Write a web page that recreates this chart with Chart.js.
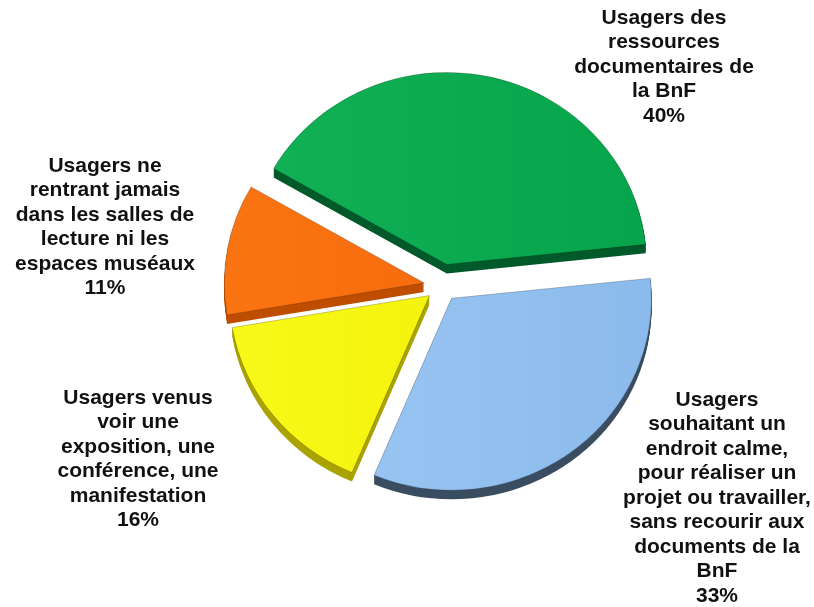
<!DOCTYPE html>
<html>
<head>
<meta charset="utf-8">
<script src="https://cdn.jsdelivr.net/npm/chart.js@4.4.0/dist/chart.umd.min.js"></script>
<style>
html, body { margin: 0; padding: 0; background: #fff; }
#wrap { width: 814px; height: 607px; position: relative; }
</style>
</head>
<body>
<div id="wrap"><canvas id="pie"></canvas></div>
<script>
// slices, clockwise from the green one
const categories = [
    'Usagers des ressources documentaires de la BnF',
    'Usagers souhaitant un endroit calme, pour réaliser un projet ou travailler, sans recourir aux documents de la BnF',
    'Usagers venus voir une exposition, une conférence, une manifestation',
    'Usagers ne rentrant jamais dans les salles de lecture ni les espaces muséaux'
]
const shares = [40, 33, 16, 11]

// how each label is broken on the picture
const labelLines = [
    ['Usagers des', 'ressources', 'documentaires de', 'la BnF'],
    ['Usagers', 'souhaitant un', 'endroit calme,', 'pour réaliser un', 'projet ou travailler,', 'sans recourir aux', 'documents de la', 'BnF'],
    ['Usagers venus', 'voir une', 'exposition, une', 'conférence, une', 'manifestation'],
    ['Usagers ne', 'rentrant jamais', 'dans les salles de', 'lecture ni les', 'espaces muséaux']
]

const topColors = [['#13b156', '#06a54b'], ['#9cc8f3', '#8bbaec'], ['#f9f91a', '#eeee00'], ['#fb7412', '#f4650a']]
const sideColors = ['#005a2a', '#3a4d61', '#aaa300', '#bf4e00']
const explode = [23, 16, 16, 18]
const labelPos = [{x: 664, y: 18}, {x: 717, y: 400}, {x: 138, y: 398}, {x: 105, y: 166}]

const TILT = 0.96
const DEPTH = 9
const LINE_H = 24.5

function slicePath(ctx, a, ox, oy) {
    let cx = a.x + ox, cy = a.y + oy
    ctx.beginPath()
    ctx.moveTo(cx, cy)
    ctx.ellipse(cx, cy, a.outerRadius, a.outerRadius * TILT, 0, a.startAngle, a.endAngle)
    ctx.closePath()
}

const pie3d = {
    id: 'pie3d',
    beforeDatasetsDraw(chart) {
        let ctx = chart.ctx
        let arcs = chart.getDatasetMeta(0).data
        let shifts = arcs.map((a, i) => {
            let mid = (a.startAngle + a.endAngle) / 2
            return [Math.cos(mid) * explode[i], Math.sin(mid) * explode[i] * TILT]
        })
        ctx.save()
        // sides first
        arcs.forEach((a, i) => {
            ctx.fillStyle = sideColors[i]
            for (let k = DEPTH; k >= 1; k--) {
                slicePath(ctx, a, shifts[i][0], shifts[i][1] + k)
                ctx.fill()
            }
        })
        // then the top faces
        arcs.forEach((a, i) => {
            let cx = a.x + shifts[i][0]
            let g = ctx.createLinearGradient(cx - a.outerRadius, 0, cx + a.outerRadius, 0)
            g.addColorStop(0, topColors[i][0])
            g.addColorStop(1, topColors[i][1])
            slicePath(ctx, a, shifts[i][0], shifts[i][1])
            ctx.fillStyle = g
            ctx.fill()
            ctx.lineWidth = 0.7
            ctx.strokeStyle = 'rgba(0,0,0,0.3)'
            ctx.stroke()
        })
        ctx.restore()
        return false
    },
    afterDraw(chart) {
        let ctx = chart.ctx
        ctx.save()
        ctx.font = 'bold 21px "Liberation Sans", Arial, sans-serif'
        ctx.fillStyle = '#111'
        ctx.textAlign = 'center'
        ctx.textBaseline = 'middle'
        labelLines.forEach((lines, i) => {
            let all = lines.concat([shares[i] + '%'])
            all.forEach((t, j) => ctx.fillText(t, labelPos[i].x, labelPos[i].y + j * LINE_H))
        })
        ctx.restore()
    }
}

new Chart(document.getElementById('pie').getContext('2d'), {
    type: 'pie',
    data: {
        labels: categories,
        datasets: [{
            data: shares,
            backgroundColor: topColors.map(c => c[0]),
            borderWidth: 0
        }]
    },
    options: {
        responsive: true,
        maintainAspectRatio: false,
        animation: false,
        rotation: -60,
        layout: {padding: {left: 242, right: 172, top: 86, bottom: 121}},
        plugins: {
            legend: {display: false},
            tooltip: {enabled: false}
        }
    },
    plugins: [pie3d]
})
</script>
</body>
</html>
